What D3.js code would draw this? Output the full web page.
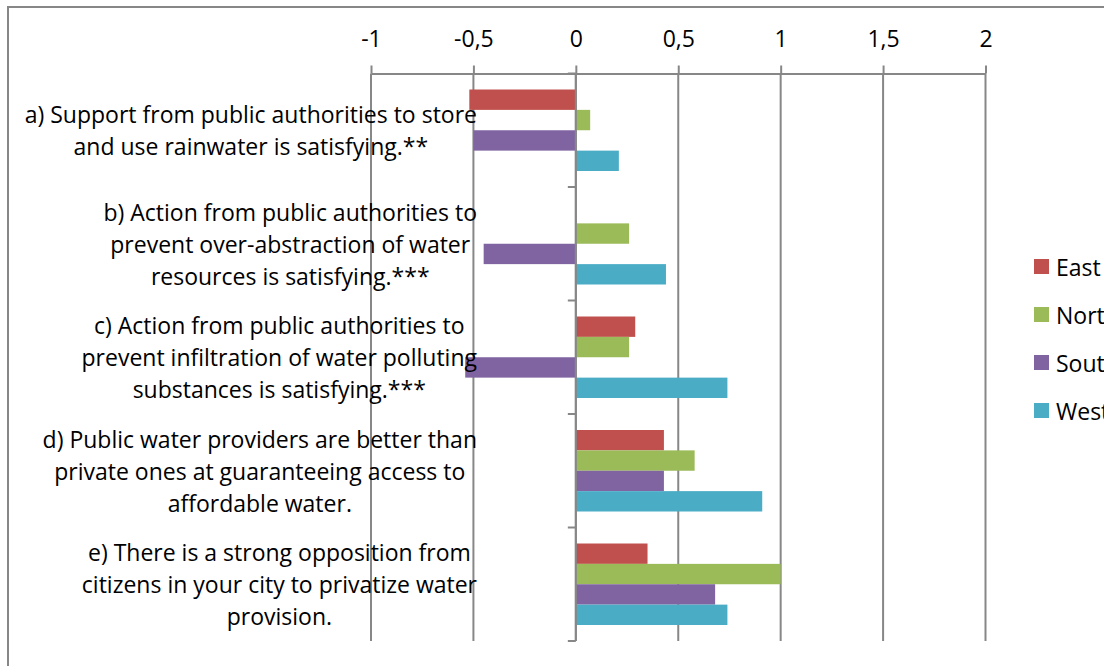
<!DOCTYPE html>
<html>
<head>
<meta charset="utf-8">
<script src="https://cdn.jsdelivr.net/npm/d3@7"></script>
<style>
  html, body { margin: 0; padding: 0; background: #fff; }
  svg { display: block; }
  text { font-family: "Open Sans", Lato, sans-serif; fill: #000; }
</style>
</head>
<body>
<svg id="chart" width="1104" height="666"></svg>
<script>
// Survey statements (one entry per line of the wrapped label)
const categoryLines = [
  ["a) Support from public authorities to store", "and use rainwater is satisfying.**"],
  ["b) Action from public authorities to", "prevent over-abstraction of water", "resources is satisfying.***"],
  ["c) Action from public authorities to", "prevent infiltration of water polluting", "substances is satisfying.***"],
  ["d) Public water providers are better than", "private ones at guaranteeing access to", "affordable water."],
  ["e) There is a strong opposition from", "citizens in your city to privatize water", "provision."]
];
const categories = ["a", "b", "c", "d", "e"];

// Mean scores per region
const seriesNames = ["East", "North", "South", "West"];
const east  = [-0.52, 0, 0.29, 0.43, 0.35];
const north = [0.07, 0.26, 0.26, 0.58, 1.0];
const south = [-0.50, -0.45, -0.54, 0.43, 0.68];
const west  = [0.21, 0.44, 0.74, 0.91, 0.74];
const seriesColors = ["#C0504D", "#9BBB59", "#8064A2", "#4BACC6"];

// Axis ticks
const tickValues = [-1, -0.5, 0, 0.5, 1, 1.5, 2];

const seriesValues = [east, north, south, west];
const rows = [];
categories.forEach((c, i) => {
  seriesNames.forEach((s, j) => rows.push({ cat: c, series: s, value: seriesValues[j][i] }));
});

const svg = d3.select("#chart");
const gridColor = "#878787";
const fontSize = 23;

// Chart frame
svg.append("rect")
  .attr("x", 8).attr("y", 7).attr("width", 1300).attr("height", 800)
  .attr("fill", "#fff").attr("stroke", gridColor).attr("stroke-width", 2);

const plotTop = 73.5, plotBottom = 641;
const x = d3.scaleLinear().domain([-1, 2]).range([371, 985.5]);
const y0 = d3.scaleBand().domain(categories).range([plotTop, plotBottom]).padding(0);
const y1 = d3.scaleBand().domain(seriesNames).range([16, y0.bandwidth() - 16]).padding(0);
const color = d3.scaleOrdinal().domain(seriesNames).range(seriesColors);

// Vertical gridlines
svg.append("g").selectAll("line").data(tickValues).join("line")
  .attr("x1", d => x(d)).attr("x2", d => x(d))
  .attr("y1", plotTop).attr("y2", plotBottom)
  .attr("stroke", gridColor).attr("stroke-width", 2);

// Value axis along the top
const xAxis = svg.append("g")
  .attr("transform", `translate(0,${plotTop})`)
  .call(d3.axisTop(x).tickValues(tickValues).tickSize(8).tickSizeOuter(0).tickPadding(19)
    .tickFormat(d => String(d).replace(".", ",")));
xAxis.select(".domain").attr("stroke", gridColor).attr("stroke-width", 2);
xAxis.selectAll(".tick line").attr("stroke", gridColor).attr("stroke-width", 2);
xAxis.selectAll(".tick text")
  .attr("font-size", fontSize).attr("font-family", "'Open Sans', sans-serif").attr("fill", "#000");

// Bars
svg.append("g").selectAll("rect").data(rows).join("rect")
  .attr("x", d => x(Math.min(0, d.value)))
  .attr("width", d => Math.abs(x(d.value) - x(0)))
  .attr("y", d => y0(d.cat) + y1(d.series))
  .attr("height", y1.bandwidth())
  .attr("fill", d => color(d.series));

// Category axis at zero
const catTicks = categories.map(c => y0(c)).concat([plotBottom]);
svg.append("line")
  .attr("x1", x(0)).attr("x2", x(0)).attr("y1", plotTop).attr("y2", plotBottom)
  .attr("stroke", gridColor).attr("stroke-width", 2);
svg.append("g").selectAll("line").data(catTicks).join("line")
  .attr("x1", x(0) - 8).attr("x2", x(0))
  .attr("y1", d => d).attr("y2", d => d)
  .attr("stroke", gridColor).attr("stroke-width", 2);

// Category labels: centred lines, block right-aligned
const labelRight = 477, lineHeight = 32;
categories.forEach((c, i) => {
  const lines = categoryLines[i];
  const g = svg.append("g");
  const texts = g.selectAll("text").data(lines).join("text")
    .attr("font-size", fontSize)
    .attr("text-anchor", "middle")
    .attr("dominant-baseline", "central")
    .attr("y", (d, k) => y0(c) + y0.bandwidth() / 2 + (k - (lines.length - 1) / 2) * lineHeight)
    .text(d => d);
  let maxW = 0;
  texts.each(function () { maxW = Math.max(maxW, this.getComputedTextLength()); });
  texts.attr("x", labelRight - maxW / 2);
});

// Legend
const legend = svg.append("g").selectAll("g").data(seriesNames).join("g")
  .attr("transform", (d, i) => `translate(1034,${259 + i * 48})`);
legend.append("rect").attr("width", 15).attr("height", 15).attr("fill", d => color(d));
legend.append("text").attr("x", 22).attr("y", 8).attr("dominant-baseline", "central")
  .attr("font-size", fontSize).text(d => d);
</script>
</body>
</html>
